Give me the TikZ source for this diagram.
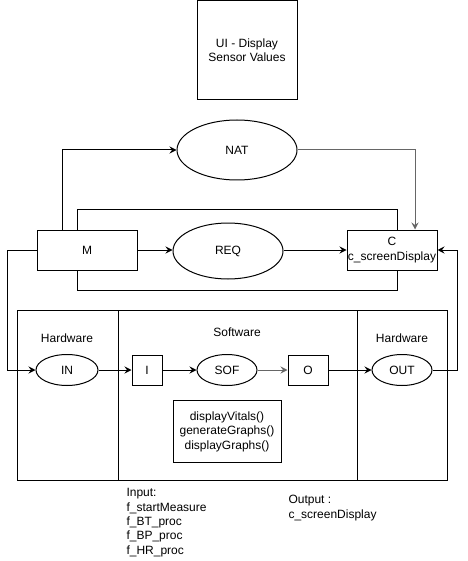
\documentclass[tikz,border=0pt]{standalone}
\usepackage{fontspec}
\setmainfont{Liberation Sans}
\usetikzlibrary{shapes.geometric,arrows.meta,calc}
\begin{document}
\begin{tikzpicture}[x=1pt,y=-1pt,line width=1pt,
  font=\fontsize{12}{14.4}\selectfont,
  box/.style={draw,rectangle,inner sep=0pt,align=center},
  ell/.style={draw,ellipse,inner sep=0pt,align=center},
  arr/.style={-{Stealth[length=7pt,width=7pt,inset=2.5pt]}},
  lbl/.style={inner sep=0pt,align=left}]
\useasboundingbox (0,0) rectangle (467,561);
\node[box,minimum width=100pt,minimum height=99pt] (ui) at (247,50.5) {UI - Display\\Sensor Values};
\node[ell,minimum width=120pt,minimum height=60pt] (nat) at (237,150) {NAT};
\node[box,minimum width=100pt,minimum height=40pt] (m) at (87,250) {M};
\node[ell,minimum width=110pt,minimum height=56pt] (req) at (228,251) {REQ};
\node[box,minimum width=90pt,minimum height=40pt] (c) at (392,250) {C\\c\_screenDisplay};
% frame
\node[box,minimum width=430pt,minimum height=170pt] (frame) at (232,395) {};
\draw (118,310) -- (118,480);
\draw (357,310) -- (357,480);
\node[inner sep=0pt] (hw1) at (67,338) {Hardware};
\node[inner sep=0pt] (sw) at (237,332) {Software};
\node[inner sep=0pt] (hw2) at (402,338) {Hardware};
\node[ell,minimum width=62pt,minimum height=31pt] (in) at (67,370) {IN};
\node[box,minimum width=30pt,minimum height=30pt] (i) at (147,370) {I};
\node[ell,minimum width=60pt,minimum height=31pt] (sof) at (227,370) {SOF};
\node[box,minimum width=40pt,minimum height=30pt] (o) at (308,370) {O};
\node[ell,minimum width=60pt,minimum height=31pt] (out) at (402,370) {OUT};
\node[box,minimum width=108pt,minimum height=62pt] (fn) at (227,431.5) {displayVitals()\\generateGraphs()\\displayGraphs()};
\node[lbl,anchor=north west] (inp) at (126,488) {Input:\\f\_startMeasure\\f\_BT\_proc\\f\_BP\_proc\\f\_HR\_proc};
\node[lbl,anchor=north west] (outp) at (288,495) {Output :\\c\_screenDisplay};
% connectors
\coordinate (lft) at (7,250);
\coordinate (rt) at (457,370);
\draw[arr] ([xshift=-25pt]m.north) |- (nat.west);
\draw[arr,draw=black!60] (nat.east) -| ([xshift=23pt]c.north);
\draw ([xshift=-10pt]m.north) -- ++(0,-20) -| ([xshift=5pt]c.north);
\draw ([xshift=-10pt]m.south) -- ++(0,20) -| ([xshift=5pt]c.south);
\draw[arr] (m.east) -- (req.west |- m.east);
\draw[arr] (req.east |- c.west) -- (c.west);
\draw[arr] (m.west) -- (lft) |- (in.west);
\draw[arr] (in.east) -- (i.west);
\draw[arr] (i.east) -- (sof.west);
\draw[arr,draw=black!60] (sof.east) -- (o.west);
\draw[arr] (o.east) -- (out.west);
\draw[arr] (out.east) -- (rt) |- (c.east);
\end{tikzpicture}
\end{document}
